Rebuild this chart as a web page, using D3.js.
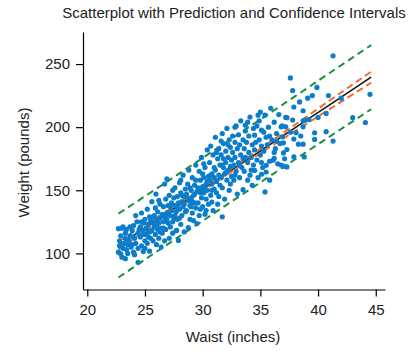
<!DOCTYPE html>
<html>
<head>
<meta charset="utf-8">
<script src="https://cdn.jsdelivr.net/npm/d3@7"></script>
<style>
  body { margin: 0; background: #fff; }
  svg { font-family: "Liberation Sans", Arial, sans-serif; }
  .axis path, .axis line { stroke: #000; stroke-width: 1.2; }
  .axis text { font-size: 15px; fill: #222; }
  .label { font-size: 15px; fill: #222; }
</style>
</head>
<body>
<script>
var w = 413;
var h = 351;

// waist (inches), weight (pounds)
const waistWeight = [
  [22.7,101],[22.7,119.6],[22.8,106],[22.8,110],[22.9,114],[22.9,99.7],[23.0,120],[23.0,97],[23.1,121],[23.1,104],
  [23.2,108],[23.3,112],[23.3,95.8],[23.4,119],[23.4,103],[23.5,100],[23.3,116],[22.9,108],[23.5,107],
  [23.6,110],[23.7,114],[23.8,105],[23.9,118],[24.0,122],[24.0,101],[24.1,112],[24.2,108],[24.3,125],[24.4,93],
  [24.4,116],[24.4,104],[24.5,119],[23.7,121],[24.1,99],[24.2,130],[23.9,107],[24.0,113],
  [24.6,113],[24.6,121],[24.7,132],[24.7,106],[24.8,118],[24.85,101.6],[24.9,124],[25.0,110],[25.0,127],[25.1,115],
  [25.1,120],[25.2,135],[25.2,108],[25.3,123],[25.4,101.8],[25.4,117],[25.4,129],[25.5,112],[25.5,126],[24.9,115],
  [25.0,104],[25.2,119],[24.7,125],[25.3,113],
  [25.6,141],[25.6,118],[25.7,124],[25.7,110],[25.8,130],[25.8,121],[25.9,115],[25.9,136],[26.0,127],[26.0,107],
  [26.1,119],[26.1,133],[26.2,124],[26.2,112],[26.3,139],[26.3,128],[26.4,105],[26.4,120],[26.5,131],[26.5,116],
  [25.95,147],[26.2,142],[25.7,129],[26.0,122],[26.3,117],[25.9,125],
  [26.6,125],[26.6,137],[26.7,155],[26.7,129],[26.8,119],[26.8,143],[26.9,159],[26.9,132],[27.0,124],[27.0,138],
  [27.1,112],[27.1,146],[27.2,130],[27.2,121],[27.3,140],[27.3,134],[27.4,150],[27.4,116],[27.5,128],[27.5,144],
  [26.7,110],[27.0,131],[27.2,137],[26.9,127],[27.4,125],[26.6,120],
  [27.6,138],[27.6,152],[27.7,118],[27.7,133],[27.8,145],[27.8,127],[27.9,110.3],[27.9,140],[28.0,156],[28.0,135],
  [28.1,123],[28.1,148],[28.2,141],[28.2,130],[28.3,162],[28.3,137],[28.4,117],[28.4,145],[28.5,133],[28.5,151],
  [27.8,136],[28.0,128],[28.2,146],[28.4,139],[27.6,130],[28.1,158],[27.75,118.3],
  [28.6,147],[28.6,134],[28.75,120.4],[28.7,155],[28.8,142],[28.8,166],[28.9,138],[28.9,127],[29.0,150],[29.0,144],
  [29.1,160],[29.1,132],[29.2,146],[29.2,126],[29.3,154],[29.3,140],[29.4,170],[29.4,136],[29.5,149],[29.5,123.6],
  [28.9,152],[29.1,141],[29.3,147],[28.7,144],[29.0,137],[29.4,158],
  [29.6,152],[29.6,140],[29.7,165],[29.7,130],[29.8,148],[29.8,158],[29.9,144],[29.9,176],[30.0,153],[30.0,137],
  [30.1,160],[30.1,148],[30.2,131],[30.2,168],[30.3,155],[30.3,143],[30.4,182],[30.4,150],[30.5,161],[30.5,139],
  [29.8,135],[30.0,163],[30.2,151],[30.4,157],[29.9,150],[30.1,171],[30.3,134],
  [30.6,158],[30.6,172],[30.7,146],[30.7,185],[30.8,155],[30.8,163],[30.8,140.7],[30.9,178],[30.9,134],[31.0,160],
  [31.0,151],[31.1,192],[31.1,166],[31.2,148],[31.2,157],[31.3,175],[31.3,139],[31.4,162],[31.4,183],[31.5,154],
  [31.5,170],[30.8,150],[31.0,168],[31.2,180],[31.4,145],[30.7,162],
  [31.6,178],[31.6,160],[31.6,189],[31.7,195],[31.7,152],[31.7,129],[31.8,168],[31.8,187],[31.9,163],[31.9,143],
  [32.0,181],[32.0,172],[32.1,158],[32.1,199],[32.2,166],[32.2,176],[32.3,150],[32.3,190],[32.4,169],[32.4,184],
  [32.5,161],[32.5,174],[31.8,175],[32.0,164],[32.2,186],[31.7,170],[32.4,155],
  [32.6,180],[32.6,193],[32.7,170],[32.7,158],[32.8,188],[32.8,176],[32.8,200],[32.9,201],[32.9,165],[33.0,183],
  [33.0,147],[33.1,172],[33.1,194],[33.2,160],[33.2,186],[33.3,178],[33.3,205],[33.4,168],[33.5,150.5],[33.5,190],
  [33.5,175],[32.8,162],[33.2,170],
  [33.6,183],[33.6,165],[33.7,197],[33.7,201.6],[33.7,176],[33.9,158],[33.8,188],[33.9,172],[34.0,193],[34.0,180],
  [34.1,162],[34.1,208],[34.2,176],[34.3,186],[34.3,154],[34.4,199],[34.4,170],[34.5,182],[34.5,165.7],[34.5,193.7],
  [33.9,204],[34.2,166],
  [34.6,188],[34.7,174],[34.7,201],[34.8,209.5],[34.8,160],[34.9,190],[35.0,178],[35.0,212],[35.1,185],[35.1,197.6],
  [35.1,162.7],[35.2,168],[35.3,196],[35.3,181],[35.4,148.7],[35.4,209.5],[35.5,192],[35.5,164.5],[35.1,172],[34.9,205],
  [35.6,186],[35.7,200],[35.5,169.8],[35.8,158],[35.8,173],[35.9,215],[36.0,190],[36.1,173.8],[36.2,204],[36.2,175.3],
  [36.3,183],[36.4,195],[36.4,189],[36.5,171],[35.8,193],[36.2,180],
  [36.7,187],[36.8,200.3],[36.8,170],[36.9,192.4],[36.9,201],[37.0,187.6],[37.0,179.6],[37.0,169],[37.2,200.3],[37.2,207.7],
  [37.3,182.3],[37.3,168.5],[37.6,239],[36.6,210],[37.1,175],[37.3,207.5],
  [37.8,229],[37.8,205.6],[37.9,216],[37.9,190.6],[37.9,176.4],[38.1,195.6],[38.3,186.5],[38.5,193],[38.7,213],[38.7,205],
  [38.7,200.3],[38.7,186.5],[38.8,176.4],[38.9,205.6],[37.6,196],[38.4,220],
  [39.1,223],[39.2,206],[39.5,225],[39.7,195.6],[39.7,190.3],[39.9,231.5],[40.0,207.7],[40.7,210.9],[40.7,196.4],[40.9,225],
  [41.3,189],[41.3,256.5],
  [42.0,223],[43.0,207.5],[44.1,203.7],[44.5,226]
];

// fitted line and interval bounds, read at a few waist values
const bandWaist = [22.7, 26, 30, 34, 38, 41, 44.6];
const fitWeight = [106.2, 126.3, 150.7, 175.1, 199.4, 217.7, 239.6];
const ciLower   = [103.0, 124.1, 149.4, 173.6, 196.9, 214.3, 235.2];
const ciUpper   = [109.4, 128.5, 152.0, 176.6, 201.9, 221.1, 244.0];
const piLower   = [80.9, 101.3, 125.8, 150.2, 174.4, 192.5, 214.2];
const piUpper   = [131.5, 151.3, 175.6, 200.0, 224.4, 242.9, 265.0];

const xTicks = [20, 25, 30, 35, 40, 45];
const yTicks = [100, 150, 200, 250];

const svg = d3.select("body")
    .append("svg")
    .attr("width", w)
    .attr("height", h);

// scales
const xScale = d3.scaleLinear()
    .domain([19.63, 45.8])
    .range([83, 385]);

const yScale = d3.scaleLinear()
    .domain([71.4, 275.4])
    .range([289.5, 32]);

// interval lines go under the points
const bandLine = vals => d3.line()
    .x((d, i) => xScale(bandWaist[i]))
    .y((d, i) => yScale(vals[i]))
    .curve(d3.curveMonotoneX)(bandWaist);

[piLower, piUpper].forEach(v => {
    svg.append("path")
        .attr("d", bandLine(v))
        .attr("fill", "none")
        .attr("stroke", "#16923f")
        .attr("stroke-width", 2)
        .attr("stroke-dasharray", "7,4.5");
});

svg.append("path")
    .attr("d", bandLine(fitWeight))
    .attr("fill", "none")
    .attr("stroke", "#111")
    .attr("stroke-width", 1.5);

[ciLower, ciUpper].forEach(v => {
    svg.append("path")
        .attr("d", bandLine(v))
        .attr("fill", "none")
        .attr("stroke", "#f26b2e")
        .attr("stroke-width", 2)
        .attr("stroke-dasharray", "7,4");
});

// points
svg.append("g")
    .selectAll("circle")
    .data(waistWeight)
    .enter()
    .append("circle")
    .attr("cx", d => xScale(d[0]))
    .attr("cy", d => yScale(d[1]))
    .attr("r", 2.6)
    .attr("fill", "#0b7dca");

// axes
const xAxis = d3.axisBottom(xScale)
    .tickValues(xTicks)
    .tickSize(7)
    .tickSizeOuter(0)
    .tickPadding(8);

const yAxis = d3.axisLeft(yScale)
    .tickValues(yTicks)
    .tickSize(7)
    .tickSizeOuter(0)
    .tickPadding(6);

svg.append("g")
    .attr("class", "axis")
    .attr("transform", "translate(0,289.5)")
    .call(xAxis);

svg.append("g")
    .attr("class", "axis")
    .attr("transform", "translate(83,0)")
    .call(yAxis);

svg.selectAll(".axis text").attr("font-family", null).attr("font-size", null);

// titles
svg.append("text")
    .attr("class", "label")
    .attr("x", 234)
    .attr("y", 18)
    .attr("text-anchor", "middle")
    .text("Scatterplot with Prediction and Confidence Intervals");

svg.append("text")
    .attr("class", "label")
    .attr("x", 233)
    .attr("y", 342)
    .attr("text-anchor", "middle")
    .text("Waist (inches)");

svg.append("text")
    .attr("class", "label")
    .attr("transform", "translate(29,162.5) rotate(-90)")
    .attr("text-anchor", "middle")
    .text("Weight (pounds)");
</script>
</body>
</html>
